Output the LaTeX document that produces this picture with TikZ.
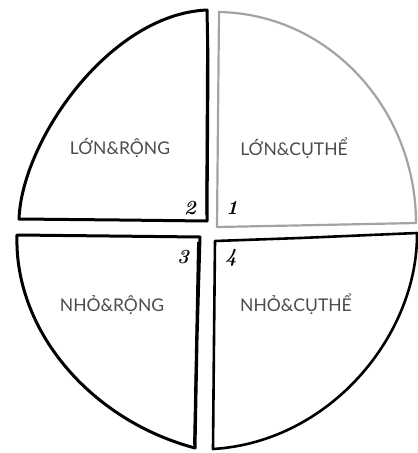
\documentclass[tikz,border=0pt]{standalone}
\usepackage{fontspec}
\newfontfamily\labfont{Lato}
\tikzset{
  quad/.style={line width=3pt, line join=round, line cap=round, draw=black},
  quadgray/.style={line width=2.2pt, line join=round, line cap=round, draw=black!36},
  lab/.style={font=\labfont\fontsize{17.5}{17.5}\selectfont, text=black!70, inner sep=0pt},
  num/.style={font=\bfseries\itshape\fontsize{20}{20}\selectfont, text=black, inner sep=0pt}
}
\begin{document}
\begin{tikzpicture}[x=1pt,y=-1pt]
\useasboundingbox[fill=white] (0,0) rectangle (418,453);
% top-left quadrant
\draw[quad] (19,219) .. controls (22,140) and (110,14) .. (207,10)
  -- (208,60) -- (207,221) -- (120,220) -- cycle;
\draw[line width=1.5pt] (207,14) -- (206,215);
% top-right quadrant (gray)
\draw[quadgray] (219,12) .. controls (330,14) and (416,110) .. (416,223)
  -- (320,225) -- (217,227) -- (218,120) -- cycle;
% bottom-left quadrant
\draw[quad] (17,235) -- (110,236) -- (200,237) -- (197,340) -- (195,448)
  .. controls (90,420) and (14,330) .. cycle;
\draw[line width=1.8pt] (198,242) -- (194,445);
% bottom-right quadrant
\draw[quad, line width=2.6pt] (215,241) -- (300,238) -- (417,233)
  .. controls (418,335) and (330,442) .. (213,449) -- (214,340) -- cycle;
% labels
\node[lab] (tl) at (120,148) {LỚN\&RỘNG};
\node[lab] (tr) at (294,148) {LỚN\&CỤTHỂ};
\node[lab] (bl) at (112,305) {NHỎ\&RỘNG};
\node[lab] (br) at (296,304) {NHỎ\&CỤTHỂ};
% numbers
\node[num] (n2) at (190,208) {2};
\node[num] (n1) at (232,208) {1};
\node[num] (n3) at (183,257) {3};
\node[num] (n4) at (231,258) {4};
\end{tikzpicture}
\end{document}
